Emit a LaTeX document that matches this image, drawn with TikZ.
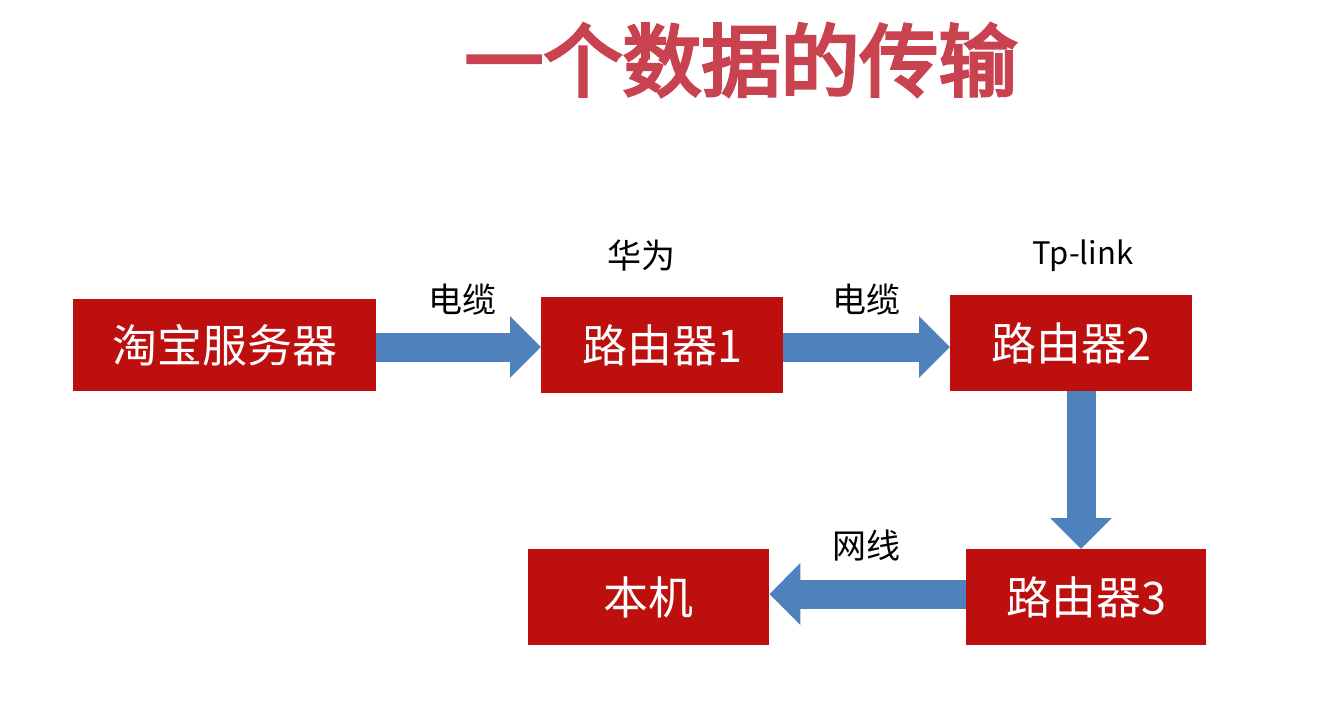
\documentclass[tikz,border=0pt]{standalone}
\usepackage{fontspec}
\setmainfont{Noto Sans CJK SC}
\newfontfamily\cjkbold[FakeBold=4]{Noto Sans CJK SC}
\usetikzlibrary{arrows.meta}
\definecolor{boxred}{HTML}{BE0F0F}
\definecolor{arrblue}{HTML}{4F81BD}
\definecolor{titlered}{HTML}{C9424F}
\tikzset{
  box/.style={fill=boxred, draw=none, text=white, font=\fontsize{45}{48}\selectfont, inner sep=0pt, anchor=north west},
  blockarrow/.style={draw=arrblue, line width=29pt, -{Triangle[width=60pt,length=31pt]}, arrblue},
  lbl/.style={font=\fontsize{34}{38}\selectfont, text=black},
}
\begin{document}
\begin{tikzpicture}[x=1pt,y=-1pt]
\useasboundingbox (0,0) rectangle (1343,705);
\fill[white] (0,0) rectangle (1343,705);
\node[text=titlered, font=\cjkbold\fontsize{79}{84}\selectfont] (title) at (741,60) {一个数据的传输};
\node[box, minimum width=303pt, minimum height=92pt] (s) at (73,299) {淘宝服务器};
\node[box, minimum width=242pt, minimum height=96pt] (r1) at (541,297) {路由器1};
\node[box, minimum width=242pt, minimum height=96pt] (r2) at (950,295) {路由器2};
\node[box, minimum width=240pt, minimum height=96pt] (r3) at (966,549) {路由器3};
\node[box, minimum width=241pt, minimum height=96pt] (pc) at (528,549) {本机};
\draw[blockarrow] (s.east |- 0,347) -- (r1.west |- 0,347);
\draw[blockarrow] (r1.east |- 0,347) -- (r2.west |- 0,347);
\draw[blockarrow] (r2.south -| 1081,0) -- (r3.north -| 1081,0);
\draw[blockarrow] (r3.west |- 0,594) -- (pc.east |- 0,594);
\node[lbl] (l1) at (462,300) {电缆};
\node[lbl] (l2) at (866,300) {电缆};
\node[lbl] (l3) at (641,256) {华为};
\node[lbl, font=\fontsize{31}{34}\selectfont] (l4) at (1083,256) {Tp-link};
\node[lbl] (l5) at (866,545) {网线};
\end{tikzpicture}
\end{document}
